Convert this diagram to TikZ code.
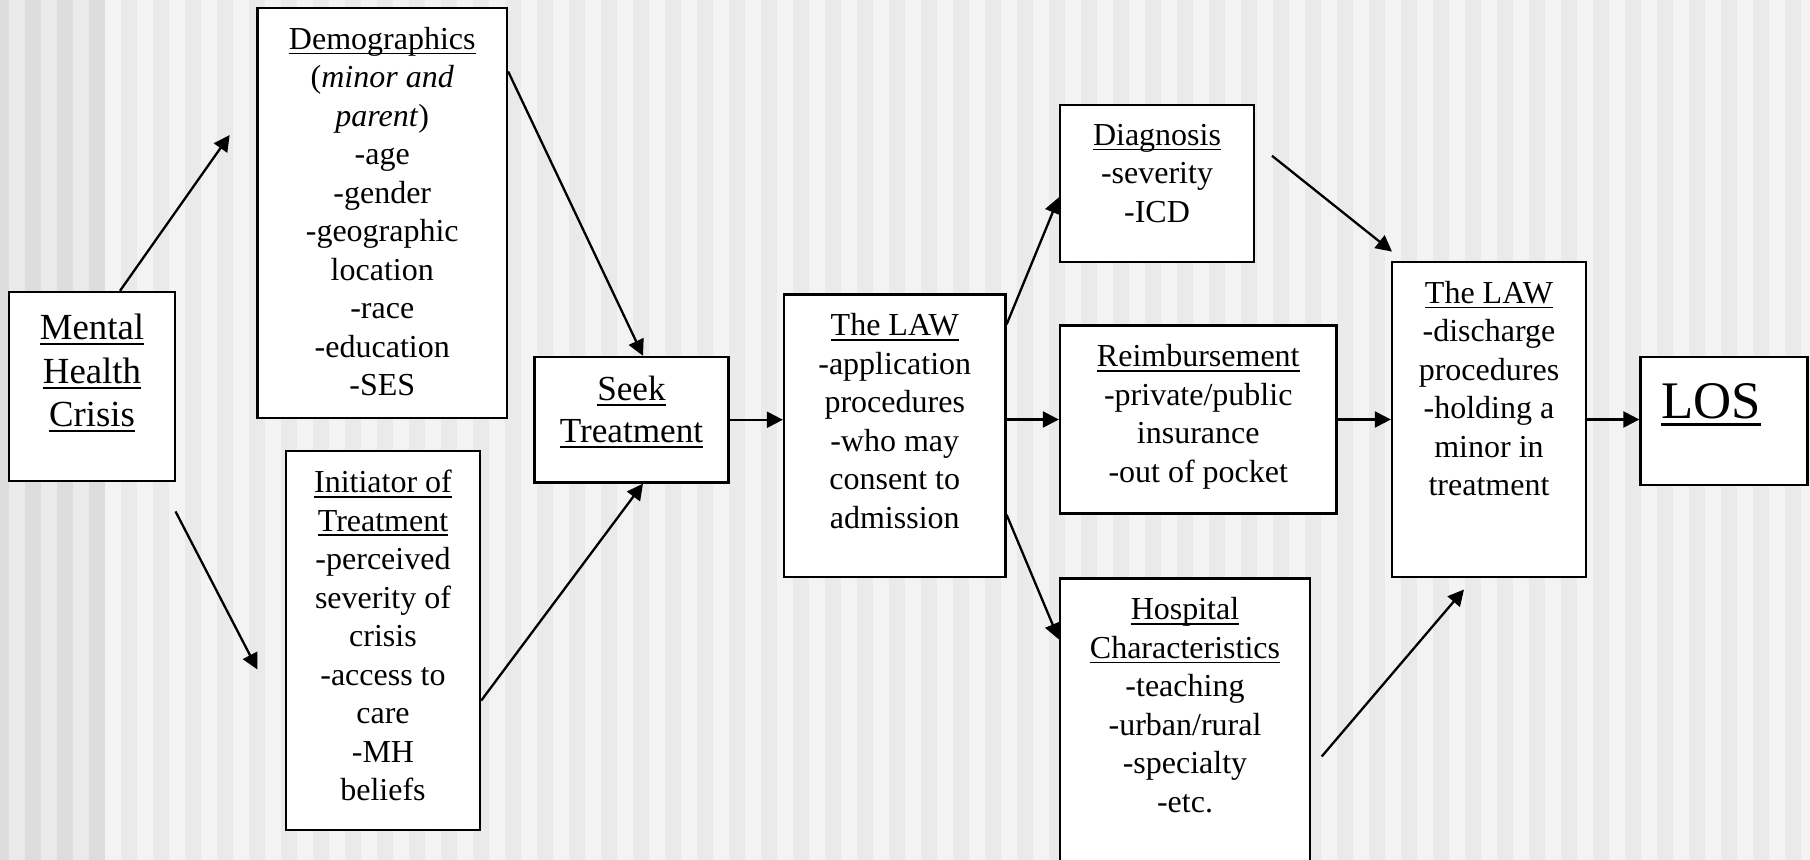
\documentclass[tikz,border=0pt]{standalone}
\usepackage{fontspec}
\setmainfont{Liberation Serif}
\usetikzlibrary{arrows.meta,fit}
\definecolor{stripeD}{HTML}{DDDDDD}
\definecolor{stripeM}{HTML}{EAEAEA}
\definecolor{stripeL}{HTML}{F3F3F3}
\newsavebox\ulbox
\newcommand{\ulx}[1]{\sbox\ulbox{#1}\rlap{\rule[-0.155em]{\wd\ulbox}{0.055em}}\usebox\ulbox}
\begin{document}
\begin{tikzpicture}[x=0.5pt,y=-0.5pt,
  box/.style={draw=black, line width=1.15pt, fill=white, inner sep=0pt},
  txt/.style={anchor=north, inner sep=0pt, align=center, font=\fontsize{16}{19.25}\selectfont},
  arr/.style={line width=1.15pt, -{Triangle[length=8pt 0 0,width=8pt 0 0]}}]
\useasboundingbox (0,0) rectangle (1810,860);
\clip (0,0) rectangle (1810,860);
% background stripes
\fill[stripeL] (0,0) rectangle (1810,860);
\fill[stripeM] (0,0) rectangle (105,860);
\foreach \k in {-1,0,1,2} \fill[stripeD] ({25+32*\k},0) rectangle ({41+32*\k},860);
\foreach \k in {3,...,55} \fill[stripeM] ({25+32*\k},0) rectangle ({41+32*\k},860);
% boxes
\node[box, fit={(9,292) (175,481)}] (mental) {};
\node[box, fit={(257.5,8) (507,418)}] (dem) {};
\node[box, fit={(286,451) (480,830)}] (init) {};
\node[box, fit={(534.5,357) (728.5,482.5)}] (seek) {};
\node[box, fit={(784,294.5) (1005.5,577)}] (law1) {};
\node[box, fit={(1060,105) (1254,262)}] (diag) {};
\node[box, fit={(1060,325.5) (1336.5,513.5)}] (reimb) {};
\node[box, fit={(1060,578.5) (1310,900)}] (hosp) {};
\node[box, fit={(1392,262) (1586,577)}] (law2) {};
\node[box, fit={(1640.5,357) (1807.5,485)}] (los) {};
% texts
\node[txt, font=\fontsize{18.4}{21.8}\selectfont] (mentalT) at ([yshift=-11.4pt]mental.north) {\ulx{Mental}\\\ulx{Health}\\\ulx{Crisis}};
\node[txt] (demT) at ([yshift=-10pt]dem.north) {\ulx{Demographics}\\(\textit{minor and}\\\textit{parent})\\-age\\-gender\\-geographic\\location\\-race\\-education\\-SES};
\node[txt] (initT) at ([yshift=-10pt]init.north) {\ulx{Initiator of}\\\ulx{Treatment}\\-perceived\\severity of\\crisis\\-access to\\care\\-MH\\beliefs};
\node[txt, font=\fontsize{17.6}{21.3}\selectfont] (seekT) at ([yshift=-9.8pt]seek.north) {\ulx{Seek}\\\ulx{Treatment}};
\node[txt] (law1T) at ([yshift=-10pt]law1.north) {\ulx{The LAW}\\-application\\procedures\\-who may\\consent to\\admission};
\node[txt] (diagT) at ([yshift=-10pt]diag.north) {\ulx{Diagnosis}\\-severity\\-ICD};
\node[txt] (reimbT) at ([yshift=-10pt]reimb.north) {\ulx{Reimbursement}\\-private/public\\insurance\\-out of pocket};
\node[txt] (hospT) at ([yshift=-10pt]hosp.north) {\ulx{Hospital}\\\ulx{Characteristics}\\-teaching\\-urban/rural\\-specialty\\-etc.};
\node[txt] (law2T) at ([yshift=-10pt]law2.north) {\ulx{The LAW}\\-discharge\\procedures\\-holding a\\minor in\\treatment};
\node[anchor=north west, inner sep=0pt, font=\fontsize{26.4}{31}\selectfont] (losT) at ([xshift=10.8pt,yshift=-13.5pt]los.north west) {\ulx{LOS}};
% connectors
\coordinate (a1e) at (229.7,135);
\draw[arr] ([xshift=14pt]mental.north) -- (a1e);
\coordinate (a2s) at (175.5,511.4);
\coordinate (a2e) at (257.4,669.5);
\draw[arr] (a2s) -- (a2e);
\draw[arr] ([yshift=-32.3pt]dem.north east) -- ([xshift=5.75pt]seek.north);
\draw[arr] ([yshift=-125.4pt]init.north east) -- ([xshift=5.75pt]seek.south);
\draw[arr] (seek.east) -- (seek.east -| law1.west);
\draw[arr] ([yshift=-15.5pt]law1.north east) -- ([yshift=-46.75pt]diag.north west);
\draw[arr] (reimb.west -| law1.east) -- (reimb.west);
\draw[arr] ([yshift=-110.75pt]law1.north east) -- ([yshift=-31pt]hosp.north west);
\coordinate (a9s) at (1272,155.8);
\coordinate (a9e) at (1392,251.6);
\draw[arr] (a9s) -- (a9e);
\draw[arr] (reimb.east) -- (reimb.east -| law2.west);
\coordinate (a11s) at (1321.7,756.5);
\coordinate (a11e) at (1464,589.5);
\draw[arr] (a11s) -- (a11e);
\draw[arr] (law2.east) -- (law2.east -| los.west);
\end{tikzpicture}
\end{document}
